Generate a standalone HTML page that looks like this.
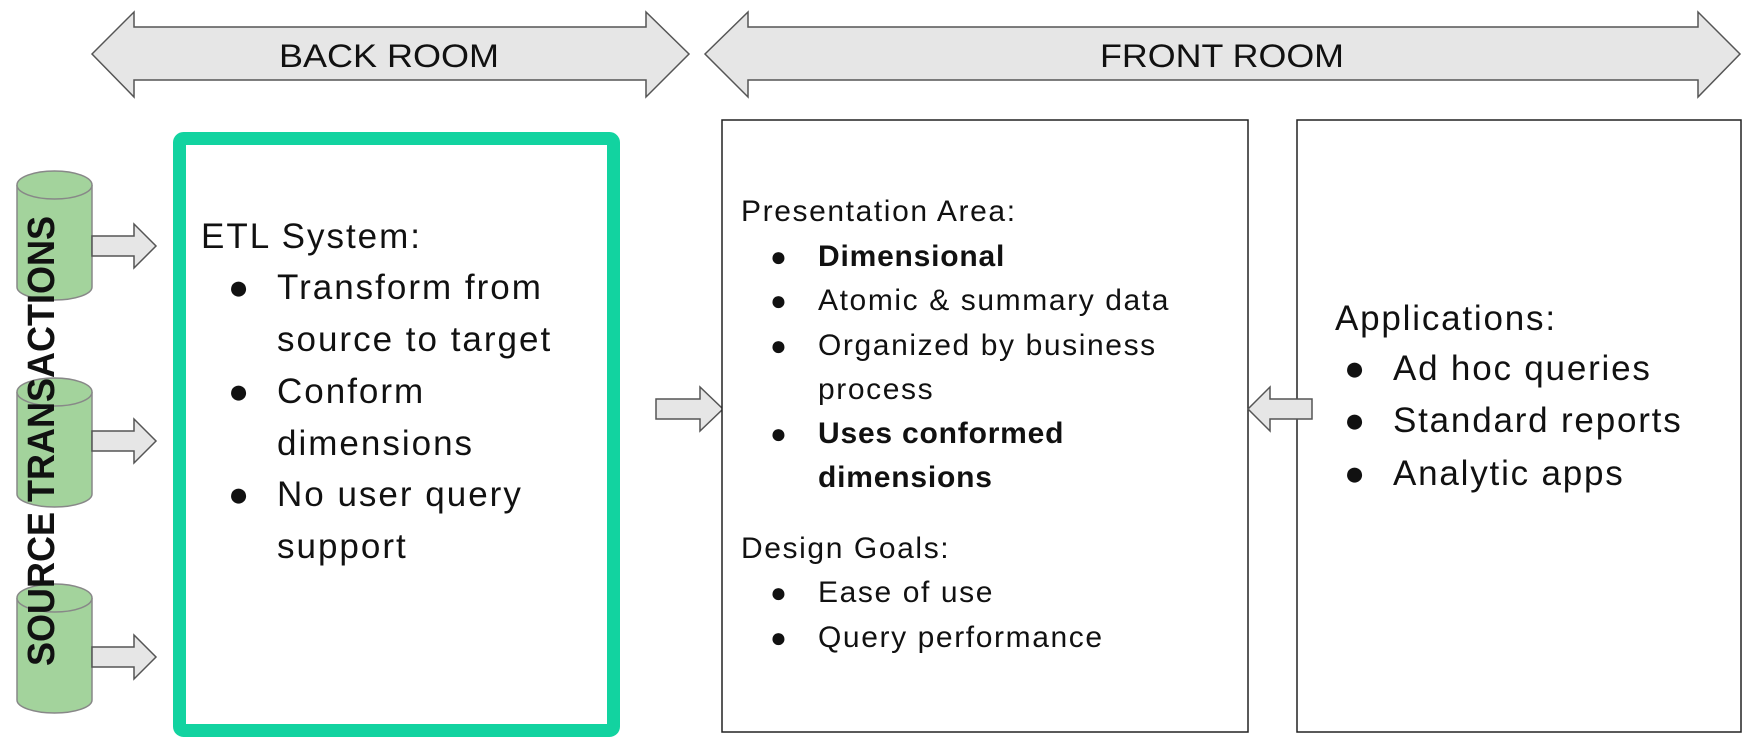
<!DOCTYPE html>
<html><head><meta charset="utf-8"><style>
html,body{margin:0;padding:0;background:#fff;width:1751px;height:744px;overflow:hidden}
svg{display:block}
text{font-family:"Liberation Sans",sans-serif;fill:#111}
</style></head><body>
<svg width="1751" height="744" viewBox="0 0 1751 744" xmlns="http://www.w3.org/2000/svg">
<polygon points="92,54 134,12 134,27 646,27 646,12 689,54 646,97 646,80 134,80 134,97" fill="#e6e6e6" stroke="#555" stroke-width="1.5"/>
<text x="389" y="67" font-size="32" text-anchor="middle" textLength="220" lengthAdjust="spacingAndGlyphs">BACK ROOM</text>
<polygon points="705,54 748,12 748,27 1698,27 1698,12 1740,54 1698,97 1698,80 748,80 748,97" fill="#e6e6e6" stroke="#555" stroke-width="1.5"/>
<text x="1222" y="67" font-size="32" text-anchor="middle" textLength="244" lengthAdjust="spacingAndGlyphs">FRONT ROOM</text>

<g fill="#a3d39c" stroke="#888" stroke-width="1.5">
<path d="M17,185 L17,287 A37.5,13 0 0 0 92,287 L92,185"/><ellipse cx="54.5" cy="185" rx="37.5" ry="14"/>
<path d="M17,392 L17,494 A37.5,13 0 0 0 92,494 L92,392"/><ellipse cx="54.5" cy="392" rx="37.5" ry="14"/>
<path d="M17,598 L17,700 A37.5,13 0 0 0 92,700 L92,598"/><ellipse cx="54.5" cy="598" rx="37.5" ry="14"/>
</g>
<g fill="#e6e6e6" stroke="#555" stroke-width="1.5">
<polygon points="92,236 134,236 134,224 156,246 134,268 134,256 92,256"/>
<polygon points="92,431 134,431 134,419 156,441 134,463 134,451 92,451"/>
<polygon points="92,647 134,647 134,635 156,657 134,679 134,667 92,667"/>
<polygon points="656,399 700,399 700,387 723,409 700,431 700,419 656,419"/>
</g>
<text transform="translate(54,441) rotate(-90)" font-size="38" font-weight="bold" text-anchor="middle" textLength="450" lengthAdjust="spacingAndGlyphs">SOURCE TRANSACTIONS</text>

<rect x="179.5" y="138.5" width="434" height="592" rx="4" fill="#fff" stroke="#12d3a0" stroke-width="13"/>
<g font-size="35" letter-spacing="2">
<text x="201" y="248">ETL System:</text>
<text x="228" y="299" letter-spacing="0">●</text><text x="277" y="299">Transform from</text>
<text x="277" y="351">source to target</text>
<text x="228" y="403" letter-spacing="0">●</text><text x="277" y="403">Conform</text>
<text x="277" y="455">dimensions</text>
<text x="228" y="506" letter-spacing="0">●</text><text x="277" y="506">No user query</text>
<text x="277" y="558">support</text>
</g>

<rect x="722" y="120" width="526" height="612" fill="#fff" stroke="#222" stroke-width="1.5"/>
<g font-size="30" letter-spacing="1.6">
<text x="741" y="221">Presentation Area:</text>
<text x="770" y="266" font-size="28" letter-spacing="0">●</text><text x="818" y="266" font-weight="bold" letter-spacing="0.8">Dimensional</text>
<text x="770" y="310" font-size="28" letter-spacing="0">●</text><text x="818" y="310">Atomic &amp; summary data</text>
<text x="770" y="355" font-size="28" letter-spacing="0">●</text><text x="818" y="355">Organized by business</text>
<text x="818" y="399">process</text>
<text x="770" y="443" font-size="28" letter-spacing="0">●</text><text x="818" y="443" font-weight="bold" letter-spacing="0.8">Uses conformed</text>
<text x="818" y="487" font-weight="bold" letter-spacing="0.8">dimensions</text>
<text x="741" y="558">Design Goals:</text>
<text x="770" y="602" font-size="28" letter-spacing="0">●</text><text x="818" y="602">Ease of use</text>
<text x="770" y="647" font-size="28" letter-spacing="0">●</text><text x="818" y="647">Query performance</text>
</g>

<rect x="1297" y="120" width="444" height="612" fill="#fff" stroke="#222" stroke-width="1.5"/>
<polygon points="1312,399 1270,399 1270,387 1248,409 1270,431 1270,419 1312,419" fill="#e6e6e6" stroke="#555" stroke-width="1.5"/>
<g font-size="35" letter-spacing="1.8">
<text x="1335" y="330">Applications:</text>
<text x="1344" y="380" letter-spacing="0">●</text><text x="1393" y="380">Ad hoc queries</text>
<text x="1344" y="432" letter-spacing="0">●</text><text x="1393" y="432">Standard reports</text>
<text x="1344" y="485" letter-spacing="0">●</text><text x="1393" y="485">Analytic apps</text>
</g>
</svg>
</body></html>
